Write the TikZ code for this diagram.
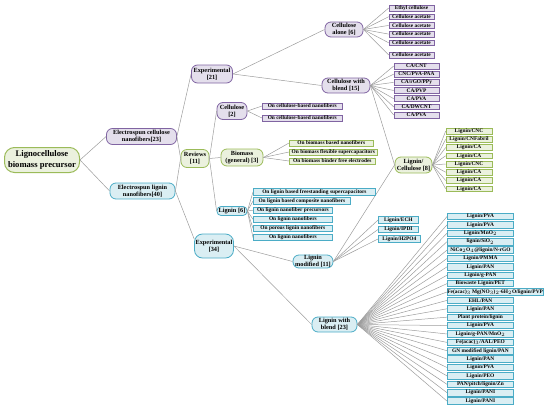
\documentclass[tikz,border=0pt]{standalone}
\usepackage{fontspec}
\setmainfont{Liberation Serif}
\definecolor{pD}{HTML}{8064A2}
\definecolor{pL}{HTML}{E4DFEC}
\definecolor{gD}{HTML}{9BBB59}
\definecolor{gL}{HTML}{EBF1DE}
\definecolor{bD}{HTML}{4BACC6}
\definecolor{bL}{HTML}{DAEEF3}
\definecolor{ln}{HTML}{9C9C9C}
\tikzset{
  conn/.style={draw=ln, line width=0.5pt},
  rootbox/.style={align=center, inner sep=0pt, rounded corners=10pt, draw=gD, fill=gL, line width=1pt, font=\bfseries\fontsize{8.6}{11}\selectfont},
  mid/.style={align=center, inner sep=0pt, line width=0.8pt, rounded corners=6pt, font=\bfseries\fontsize{6.3}{7}\selectfont},
  pmid/.style={mid, draw=pD, fill=pL},
  gmid/.style={mid, draw=gD, fill=gL},
  bmid/.style={mid, draw=bD, fill=bL},
  leaf/.style={inner sep=0pt, line width=0.6pt, minimum height=5.8, font=\bfseries\fontsize{5.4}{5.4}\selectfont},
  pleaf/.style={leaf, draw=pD, fill=pL},
  gleaf/.style={leaf, draw=gD, fill=gL},
  bleaf/.style={leaf, draw=bD, fill=bL, line width=0.8pt, minimum height=6.5},
}
\begin{document}
\begin{tikzpicture}[x=1pt, y=-1pt]
\useasboundingbox (0,0) rectangle (550,413);
% main nodes
\node[rootbox, minimum width=75, minimum height=25] (root) at (42,160) {Lignocellulose\\biomass precursor};
\node[pmid, minimum width=70, minimum height=16] (ecn) at (141.5,136.5) {Electrospun cellulose\\nanofibers[23]};
\node[bmid, minimum width=65, minimum height=16] (eln) at (142.5,191) {Electrospun lignin\\nanofibers[40]};
\node[gmid, minimum width=28, minimum height=18] (rev) at (195,158.5) {Reviews\\{[11]}};
\node[pmid, minimum width=41, minimum height=18] (ex21) at (212,74) {Experimental\\{[21]}};
\node[bmid, minimum width=39, minimum height=24, rounded corners=8pt] (ex34) at (214,246) {Experimental\\{[34]}};
\node[pmid, minimum width=30, minimum height=17] (cel2) at (232,111) {Cellulose\\{[2]}};
\node[gmid, minimum width=42, minimum height=17] (bio) at (242,157.5) {Biomass\\(general) [3]};
\node[bmid, minimum width=30, minimum height=9, rounded corners=4pt] (lig6) at (232,211) {Lignin [6]};
\node[pmid, minimum width=38, minimum height=15] (calone) at (344,29.5) {Cellulose\\alone [6]};
\node[pmid, minimum width=48, minimum height=15] (cblend) at (346,85.5) {Cellulose with\\blend [15]};
\node[gmid, minimum width=37, minimum height=16] (lc) at (413.5,165) {Lignin/\\Cellulose [8]};
\node[bmid, minimum width=40, minimum height=13] (lmod) at (313,261.5) {Lignin\\modified [11]};
\node[bmid, minimum width=45, minimum height=15] (lblend) at (334.5,324.5) {Lignin with\\blend [23]};

% main connectors
\draw[conn] (root.east) -- (ecn.west);
\draw[conn] (root.east) -- (eln.west);
\draw[conn] (ecn.east) -- (ex21.west);
\draw[conn] (ecn.east) -- (rev.west);
\draw[conn] (eln.east) -- (rev.west);
\draw[conn] (eln.east) -- (ex34.160);
\draw[conn] (rev.east) -- (cel2.west);
\draw[conn] (rev.east) -- (bio.west);
\draw[conn] (rev.east) -- (lig6.west);
\draw[conn] (ex21.east) -- (calone.west);
\draw[conn] (ex21.east) -- (cblend.west);
\draw[conn] (cblend.east) -- (lc.west);
\draw[conn] (ex34.east) -- (lmod.west);
\draw[conn] (ex34.east) -- (lblend.west);
\draw[conn] (lmod.east) -- (lc.west);

% cellulose alone leaves
\foreach \t [count=\i] in {Ethyl cellulose, Cellulose acetate, Cellulose acetate, Cellulose acetate, Cellulose acetate}{
  \node[pleaf, minimum width=45] (ca\i) at (411.5,{8+8.7*(\i-1)}) {\t};
  \draw[conn] (calone.east) -- (ca\i.west);
}
\node[pleaf, minimum width=45] (ca6) at (411.5,55) {Cellulose acetate};
\draw[conn] (calone.east) -- (ca6.west);

% cellulose with blend leaves
\foreach \t [count=\i] in {CA/CNT, CNC/PVA-PAA, CA/rGO/PPy, CA/PVP, CA/PVA, CA/DWCNT, CA/PVA}{
  \node[pleaf, minimum width=45] (cb\i) at (416.5,{66+8.17*(\i-1)}) {\t};
  \draw[conn] (cblend.east) -- (cb\i.west);
}

% cellulose reviews leaves
\node[pleaf, minimum width=80, anchor=west] (cr1) at (262,106) {On cellulose-based nanofibers};
\node[pleaf, minimum width=80, anchor=west] (cr2) at (262,118) {On cellulose-based nanofibers};
\draw[conn] (cel2.east) -- (cr1.west);
\draw[conn] (cel2.east) -- (cr2.west);

% biomass leaves
\node[gleaf, minimum width=84, anchor=west] (br1) at (289,143) {On biomass based nanofibers};
\node[gleaf, minimum width=88, anchor=west] (br2) at (289,152) {On biomass flexible supercapacitors};
\node[gleaf, minimum width=86, anchor=west] (br3) at (289,161) {On biomass binder free electrodes};
\draw[conn] (bio.east) -- (br1.west);
\draw[conn] (bio.east) -- (br2.west);
\draw[conn] (bio.east) -- (br3.west);

% lignin reviews leaves
\node[bleaf, minimum width=122, anchor=west] (lr1) at (253,192) {On lignin based freestanding supercapacitors};
\node[bleaf, minimum width=97, anchor=west] (lr2) at (253,201.1) {On lignin based composite nanofibers};
\node[bleaf, minimum width=79, anchor=west] (lr3) at (253,210.2) {On lignin nanofiber precursors};
\node[bleaf, minimum width=79, anchor=west] (lr4) at (253,219.3) {On lignin nanofibers};
\node[bleaf, minimum width=79, anchor=west] (lr5) at (253,228.4) {On porous lignin nanofibers};
\node[bleaf, minimum width=79, anchor=west] (lr6) at (253,237.5) {On lignin nanofibers};
\foreach \i in {1,...,6}{\draw[conn] (lig6.east) -- (lr\i.west);}

% lignin/cellulose leaves
\foreach \t [count=\i] in {Lignin/CNC, Lignin/CNFabril, Lignin/CA, Lignin/CA, Lignin/CNC, Lignin/CA, Lignin/CA, Lignin/CA}{
  \node[gleaf, minimum width=46] (lcl\i) at (469,{131+8.25*(\i-1)}) {\t};
  \draw[conn] (lc.east) -- (lcl\i.west);
}

% lignin modified leaves
\node[bleaf, minimum width=40, anchor=west] (lm1) at (378,220) {Lignin/ECH};
\node[bleaf, minimum width=40, anchor=west] (lm2) at (378,229.5) {Lignin/IPDI};
\node[bleaf, minimum width=42, anchor=west] (lm3) at (378,239) {Lignin/H2PO4};
\foreach \i in {1,2,3}{\draw[conn] (lmod.east) -- (lm\i.west);}

% lignin with blend leaves
\foreach \t [count=\i] in {Lignin/PVA, Lignin/PVA, Lignin/MnO$_2$, lignin/SiO$_2$, NiCo$_2$O$_4$@lignin/N-rGO, Lignin/PMMA, Lignin/PAN, Lignin/g-PAN, Biowaste Lignin/PET, {Fe(acac)$_3$ Mg(NO$_3$)$_2$·6H$_2$O/lignin/PVP}, EHL/PAN, Lignin/PAN, Plant protein/lignin, Lignin/PVA, Lignin/g-PAN/MnO$_2$, Fe(acac)$_3$/AAL/PEO, GN modified lignin/PAN, Lignin/PAN, Lignin/PVA, Lignin/PEO, PAN/pitch/lignin/Zn, Lignin/PANI, Lignin/PANI}{
  \node[bleaf, minimum width=66, anchor=west] (lb\i) at (447,{216.5+8.39*(\i-1)}) {\t};
  \draw[conn] (lblend.east) -- (lb\i.west);
}
\end{tikzpicture}
\end{document}
